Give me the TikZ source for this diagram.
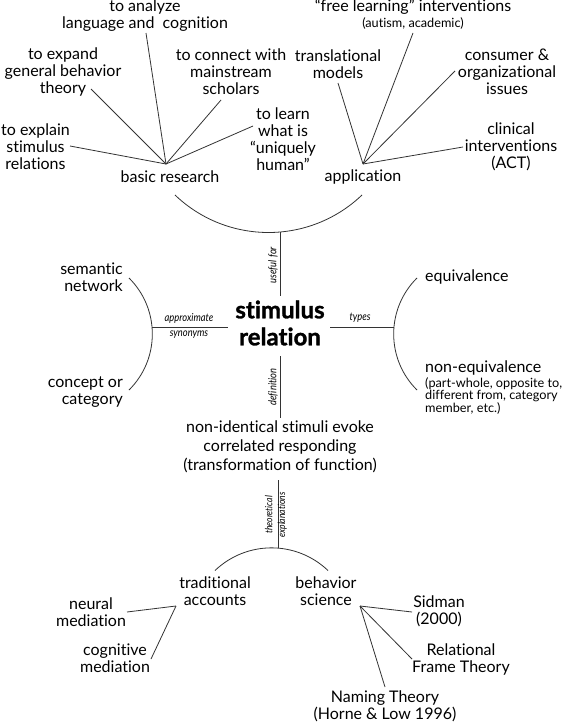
\documentclass[tikz,border=0pt]{standalone}
\usepackage{fontspec}
\setmainfont{Lato}[Ligatures=NoCommon]
\newfontfamily\condit{Lato}[FakeStretch=0.85,Ligatures=NoCommon]
\newfontfamily\heavy{Lato}[FakeBold=1.2,Ligatures=NoCommon]
\begin{document}
\begin{tikzpicture}[x=1pt,y=-1pt,
  lbl/.style={font=\fontsize{16}{17}\selectfont, align=center, inner sep=0pt},
  sml/.style={font=\fontsize{12.7}{12.7}\selectfont, inner sep=0pt},
  rel/.style={font=\condit\itshape\fontsize{11}{12}\selectfont, inner sep=0pt},
  relsm/.style={font=\condit\itshape\fontsize{10}{12.7}\selectfont, align=center, inner sep=0pt},
  big/.style={font=\heavy\bfseries\fontsize{24}{27}\selectfont, align=center, inner sep=0pt},
  con/.style={draw=black!80, line width=0.8pt}]
\fill[white] (0,0) rectangle (562,723);
\useasboundingbox (0,0) rectangle (562,723);

% ---------- basic research ----------
\node[lbl] (ana) at (145,16) {to analyze\\language and\ \ cognition};
\node[lbl] (expand) at (63,72) {to expand\\general behavior\\theory};
\node[lbl] (connect) at (231,72) {to connect with\\mainstream\\scholars};
\node[lbl] (learn) at (283,139) {to learn\\what is\\“uniquely\\human”};
\node[lbl] (explain) at (35.5,147) {to explain\\stimulus\\relations};
\node[lbl] (basic) at (170,177) {basic research};
\coordinate (hubL) at (166,164);
\coordinate (eExplain) at (70,146);
\coordinate (eTheory) at (91,89);
\coordinate (eLang) at (146,33);
\coordinate (eScholar) at (221,100);
\coordinate (eLearn) at (253,126);
\foreach \e in {eExplain,eTheory,eLang,eScholar,eLearn} \draw[con] (hubL) -- (\e);

% ---------- application ----------
\node[lbl] (free) at (413,7) {“free learning” interventions};
\node[sml] (autism) at (413,24) {(autism, academic)};
\node[lbl] (trans) at (338,64) {translational\\models};
\node[lbl] (consumer) at (507,72) {consumer \&\\organizational\\issues};
\node[lbl] (clinical) at (511,147) {clinical\\interventions\\(ACT)};
\node[lbl] (app) at (363,177) {application};
\coordinate (hubR) at (363,164);
\coordinate (eTrans) at (338,83);
\coordinate (eFree) at (413,33);
\coordinate (eCons) at (455,71);
\coordinate (eClin) at (463,147);
\foreach \e in {eTrans,eFree,eCons,eClin} \draw[con] (hubR) -- (\e);

% ---------- centre ----------
\node[big] (stim) at (280,323) {stimulus\\relation};
\coordinate (tA) at (175,195);
\coordinate (tB) at (362,195);
\coordinate (uTop) at (280,232.3);
\coordinate (stimN) at (280,296);
\coordinate (stimS) at (280,356);
\coordinate (stimW) at (228,327);
\coordinate (stimE) at (330,327);
\draw[con] (tA) .. controls (227.3,245) and (309.7,245) .. (tB);
\draw[con] (uTop) -- (stimN);
\node[rel, rotate=90] (useful) at (273,265) {useful for};

\coordinate (lA) at (129,278);
\coordinate (lB) at (129,390);
\coordinate (lTip) at (152,327);
\draw[con] (lA) .. controls (160.1,308.8) and (160.1,359.2) .. (lB);
\draw[con] (lTip) -- (stimW);
\node[rel] (approx) at (189,318) {approximate};
\node[rel] (syn) at (189,335) {synonyms};
\node[lbl, anchor=east, align=right] (semantic) at (123,277.5) {semantic\\network};
\node[lbl, anchor=east, align=right] (concept) at (123,392) {concept or\\category};

\coordinate (rA) at (417,278);
\coordinate (rB) at (417,390);
\coordinate (rTip) at (394,327);
\draw[con] (rA) .. controls (385.9,308.8) and (385.9,359.2) .. (rB);
\draw[con] (stimE) -- (rTip);
\node[rel] (types) at (360,318) {types};
\node[lbl, anchor=west] (equiv) at (425,277) {equivalence};
\node[lbl, anchor=west] (nonequiv) at (425,368) {non-equivalence};
\node[sml, anchor=west, align=left] (nonex) at (425,396) {(part-whole, opposite to,\\different from, category\\member, etc.)};

% ---------- definition ----------
\node[lbl, font=\fontsize{16}{19}\selectfont] (def) at (280,447) {non-identical stimuli evoke\\correlated responding\\(transformation of function)};
\coordinate (defN) at (280,418);
\draw[con] (stimS) -- (defN);
\node[rel, rotate=90] (definition) at (273,387) {definition};

% ---------- theoretical explanations ----------
\coordinate (defS) at (278,480);
\coordinate (bTop) at (278,548.1);
\draw[con] (defS) -- (bTop);
\node[relsm, rotate=90] (theo) at (276,515) {theoretical\\explanations};
\coordinate (bA) at (215,570.5);
\coordinate (bB) at (328,570.5);
\draw[con] (bA) .. controls (246.8,540.3) and (296.2,540.3) .. (bB);
\node[lbl] (trad) at (215,591) {traditional\\accounts};
\node[lbl] (beh) at (326,591) {behavior\\science};

\coordinate (hubT) at (176,606);
\node[lbl] (neural) at (91,612) {neural\\mediation};
\node[lbl] (cog) at (115,658.5) {cognitive\\mediation};
\coordinate (eNeural) at (127,612);
\coordinate (eCog) at (151,659);
\draw[con] (hubT) -- (eNeural);
\draw[con] (hubT) -- (eCog);

\coordinate (hubB) at (360,606);
\node[lbl] (sidman) at (439,611.5) {Sidman\\(2000)};
\node[lbl] (rft) at (461,659.5) {Relational\\Frame Theory};
\node[lbl] (naming) at (385,706.5) {Naming Theory\\(Horne \& Low 1996)};
\coordinate (eSid) at (412,612);
\coordinate (eRft) at (412,659);
\coordinate (eNam) at (385,687);
\foreach \e in {eSid,eRft,eNam} \draw[con] (hubB) -- (\e);
\end{tikzpicture}
\end{document}
